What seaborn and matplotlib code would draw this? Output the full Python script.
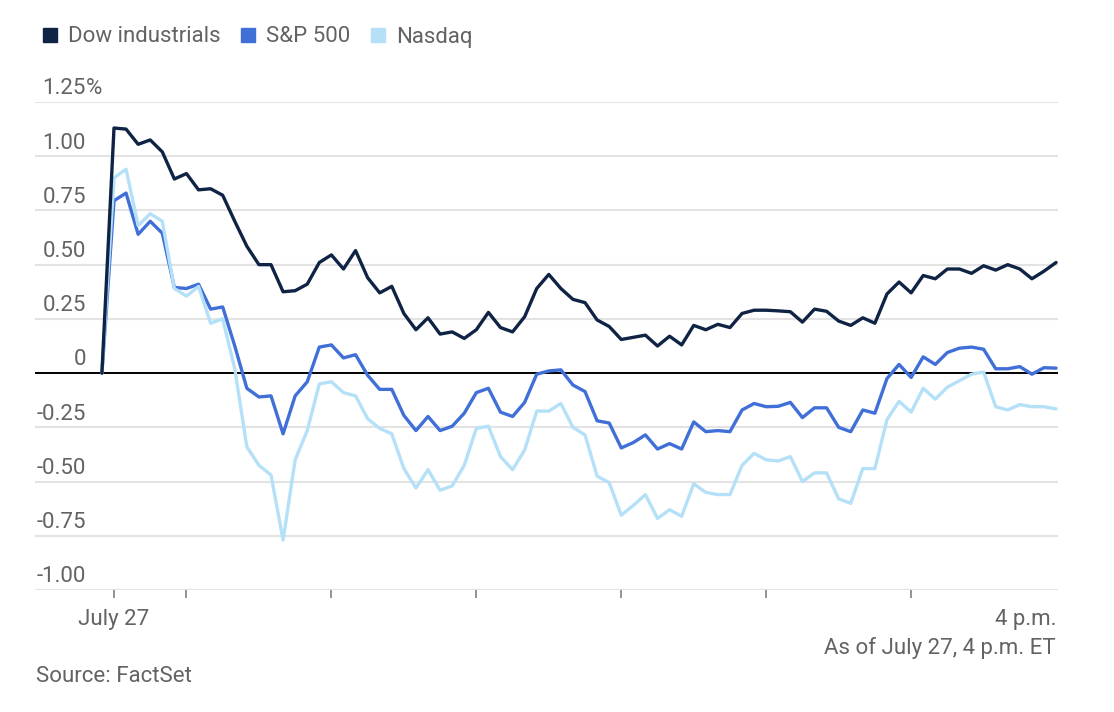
import pandas as pd
import numpy as np
import matplotlib
matplotlib.use('Agg')
import matplotlib.pyplot as plt
from matplotlib.lines import Line2D
import seaborn as sns

# % change from previous close, 5-minute bars from 9:25 (prior close) to 4 p.m.
dow = [0, 1.13, 1.125, 1.055, 1.075, 1.02, 0.895, 0.92, 0.845, 0.85,
       0.82, 0.70, 0.585, 0.50, 0.50, 0.375, 0.38, 0.41, 0.51, 0.545,
       0.48, 0.565, 0.44, 0.37, 0.40, 0.275, 0.20, 0.255, 0.18, 0.19,
       0.16, 0.20, 0.28, 0.21, 0.19, 0.26, 0.39, 0.455, 0.39, 0.34,
       0.325, 0.245, 0.215, 0.155, 0.165, 0.175, 0.125, 0.17, 0.13, 0.22,
       0.20, 0.225, 0.21, 0.275, 0.29, 0.29, 0.287, 0.283, 0.235, 0.295,
       0.285, 0.24, 0.22, 0.255, 0.23, 0.365, 0.42, 0.37, 0.45, 0.435,
       0.48, 0.48, 0.46, 0.495, 0.475, 0.50, 0.48, 0.435, 0.47, 0.51]
sp500 = [0, 0.795, 0.83, 0.64, 0.70, 0.645, 0.395, 0.39, 0.41, 0.295,
         0.305, 0.125, -0.07, -0.11, -0.105, -0.28, -0.105, -0.04, 0.12, 0.13,
         0.07, 0.085, -0.01, -0.075, -0.075, -0.195, -0.265, -0.20, -0.265, -0.245,
         -0.185, -0.09, -0.07, -0.18, -0.20, -0.135, -0.005, 0.01, 0.015, -0.055,
         -0.085, -0.22, -0.23, -0.345, -0.32, -0.285, -0.35, -0.325, -0.35, -0.225,
         -0.27, -0.265, -0.27, -0.17, -0.14, -0.155, -0.153, -0.135, -0.205, -0.16,
         -0.16, -0.25, -0.27, -0.17, -0.185, -0.025, 0.04, -0.02, 0.075, 0.04,
         0.095, 0.115, 0.12, 0.11, 0.02, 0.02, 0.03, -0.005, 0.025, 0.023]
nasdaq = [0, 0.90, 0.94, 0.68, 0.735, 0.70, 0.39, 0.355, 0.40, 0.23,
          0.25, 0.02, -0.34, -0.425, -0.47, -0.77, -0.40, -0.265, -0.05, -0.04,
          -0.09, -0.105, -0.21, -0.255, -0.28, -0.44, -0.53, -0.445, -0.54, -0.52,
          -0.425, -0.255, -0.245, -0.385, -0.445, -0.355, -0.175, -0.175, -0.14, -0.25,
          -0.285, -0.475, -0.505, -0.655, -0.61, -0.56, -0.67, -0.63, -0.66, -0.51,
          -0.55, -0.56, -0.56, -0.425, -0.37, -0.40, -0.405, -0.385, -0.50, -0.46,
          -0.46, -0.58, -0.60, -0.44, -0.44, -0.215, -0.13, -0.18, -0.07, -0.12,
          -0.065, -0.035, -0.005, 0.005, -0.155, -0.17, -0.145, -0.155, -0.155, -0.165]
times = pd.date_range('2023-07-27 09:25', '2023-07-27 16:00', freq='5min')

series_names = ['Dow industrials', 'S&P 500', 'Nasdaq']
colors = ['#0f2344', '#3f6fd7', '#b4e0f8']
ytick_vals = [1.25, 1.0, 0.75, 0.5, 0.25, 0, -0.25, -0.5, -0.75, -1.0]
ytick_text = ['1.25', '1.00', '0.75', '0.50', '0.25', '0', '-0.25', '-0.50', '-0.75', '-1.00']
xtick_times = ['09:30', '10:00', '11:00', '12:00', '13:00', '14:00', '15:00', '16:00']
xtick_text = ['July 27', '', '', '', '', '', '', '4 p.m.']

df = pd.DataFrame({'time': times, 'Dow industrials': dow, 'S&P 500': sp500, 'Nasdaq': nasdaq})
long = df.melt(id_vars='time', var_name='index', value_name='pct')

sns.set_theme(style='white')
plt.rcParams['font.family'] = ['Roboto', 'DejaVu Sans']
txt = '#636363'
fs = 16
fw = 'normal'

fig = plt.figure(figsize=(11.14, 7.12), dpi=100)
ax = fig.add_axes([35 / 1114, 1 - 590 / 712, (1058 - 35) / 1114, (590 - 102) / 712])

ax.axhline(0, color='black', lw=1.4, zorder=2)
sns.lineplot(data=long[long['index'] != 'Dow industrials'].iloc[::-1], x='time', y='pct', hue='index',
             hue_order=series_names, palette=colors, lw=2.4, legend=False, ax=ax, zorder=3, sort=False)
sns.lineplot(data=long[long['index'] == 'Dow industrials'], x='time', y='pct', color=colors[0],
             lw=2.4, legend=False, ax=ax, zorder=4)

day = pd.Timestamp('2023-07-27')
ax.set_xlim(day + pd.Timedelta(minutes=9 * 60 + 30 - 32.7), day + pd.Timedelta(minutes=16 * 60 + 0.8))
ax.set_ylim(-1.0, 1.25)

ax.set_yticks(ytick_vals)
ax.set_yticklabels([])
ax.tick_params(axis='y', length=0)
ax.grid(axis='y', color='#e3e3e3', lw=1.5, zorder=0)
ax.set_axisbelow(True)
for s in ax.spines.values():
    s.set_visible(False)

xt = [day + pd.Timedelta(t + ':00') for t in xtick_times]
ax.set_xticks(xt)
ax.set_xticklabels(xtick_text, fontweight=fw)
ax.tick_params(axis='x', bottom=True, direction='out', length=6, width=1.2, color='#808080',
               labelsize=fs, labelcolor=txt, pad=8)
ax.get_xticklabels()[-1].set_ha('right')
ax.xaxis.get_major_ticks()[-1].tick1line.set_visible(False)
ax.set_xlabel('')
ax.set_ylabel('')

lab_x = (86 - 35) / (1058 - 35)
btr = matplotlib.transforms.blended_transform_factory(ax.transAxes, ax.transData)
for v, t in zip(ytick_vals, ytick_text):
    ax.annotate(t, xy=(lab_x, v), xycoords=btr, xytext=(0, 9.5), textcoords='offset points',
                ha='right', va='center', fontsize=fs, color=txt, fontweight=fw)
ax.annotate('%', xy=(lab_x, ytick_vals[0]), xycoords=btr, xytext=(0, 9.5), textcoords='offset points',
            ha='left', va='center', fontsize=fs, color=txt, fontweight=fw)

handles = [Line2D([], [], marker='s', ls='', markersize=9.5, color=c) for c in colors]
leg = fig.legend(handles, series_names, loc='center left', bbox_to_anchor=(30 / 1114, 1 - 37 / 712),
                 ncol=3, frameon=False, fontsize=fs, labelcolor=txt, handletextpad=0.3,
                 columnspacing=0.75, handlelength=1.0, borderaxespad=0)

fig.text(1056 / 1114, 1 - 648 / 712, 'As of July 27, 4 p.m. ET', ha='right', va='center',
         fontsize=fs, color=txt, fontweight=fw)
fig.text(36 / 1114, 1 - 677 / 712, 'Source: FactSet', ha='left', va='center', fontsize=fs,
         color=txt, fontweight=fw)

fig.savefig('out.png', dpi=100)
